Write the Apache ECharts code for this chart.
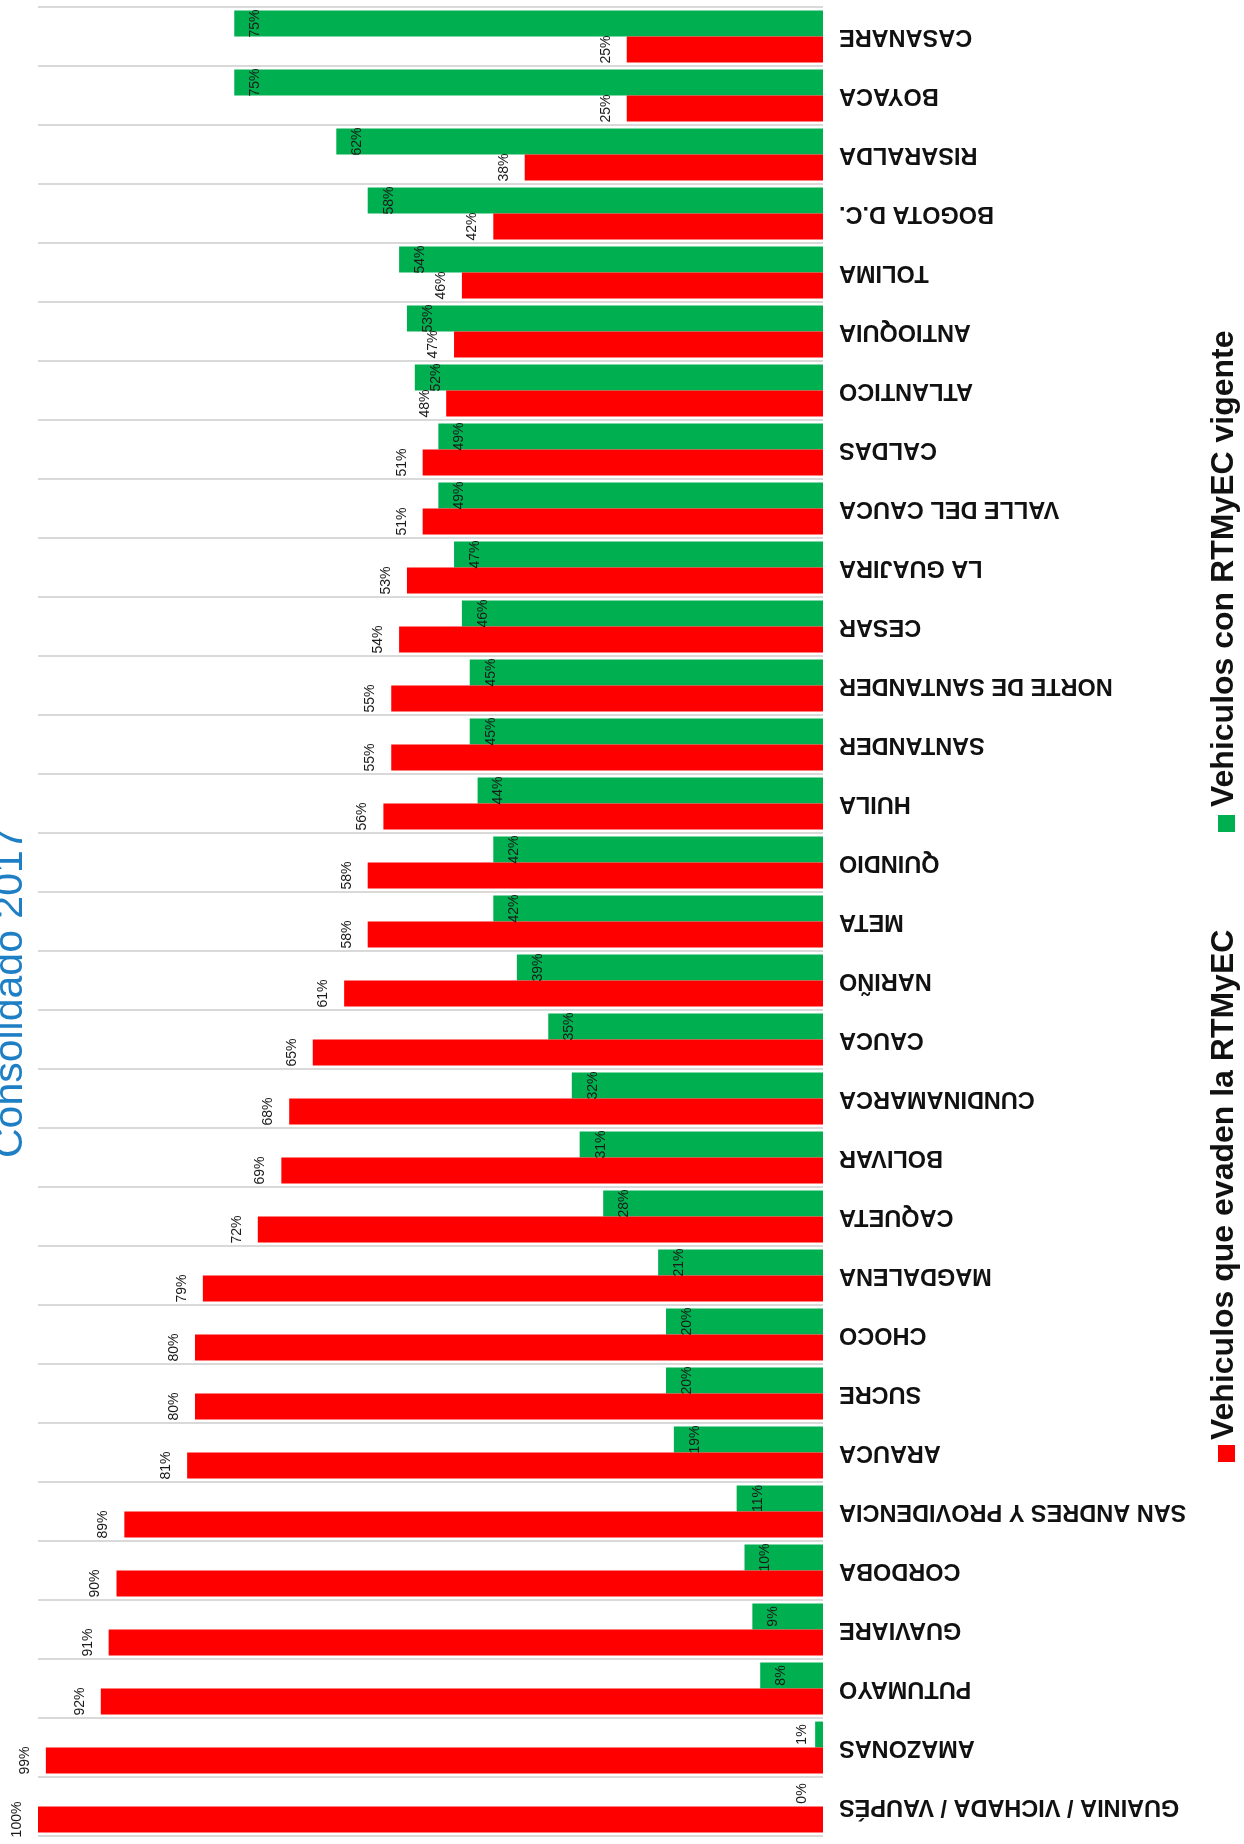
<!DOCTYPE html>
<html>
<head>
<meta charset="utf-8">
<script src="https://cdn.jsdelivr.net/npm/echarts@6/dist/echarts.min.js"></script>
<style>
html,body{margin:0;padding:0;background:#fff;}
#chart{width:1244px;height:1844px;}
</style>
</head>
<body>
<div id="chart"></div>
<script>
// Categories listed from bottom to top
const categories = [
  'GUAINIA / VICHADA / VAUPÉS', 'AMAZONAS', 'PUTUMAYO', 'GUAVIARE', 'CORDOBA',
  'SAN ANDRES Y PROVIDENCIA', 'ARAUCA', 'SUCRE', 'CHOCO', 'MAGDALENA',
  'CAQUETA', 'BOLIVAR', 'CUNDINAMARCA', 'CAUCA', 'NARIÑO',
  'META', 'QUINDIO', 'HUILA', 'SANTANDER', 'NORTE DE SANTANDER',
  'CESAR', 'LA GUAJIRA', 'VALLE DEL CAUCA', 'CALDAS', 'ATLANTICO',
  'ANTIOQUIA', 'TOLIMA', 'BOGOTA D.C.', 'RISARALDA', 'BOYACA', 'CASANARE'
];
const evaden = [100, 99, 92, 91, 90, 89, 81, 80, 80, 79, 72, 69, 68, 65, 61, 58, 58, 56, 55, 55, 54, 53, 51, 51, 48, 47, 46, 42, 38, 25, 25];
const vigente = [0, 1, 8, 9, 10, 11, 19, 20, 20, 21, 28, 31, 32, 35, 39, 42, 42, 44, 45, 45, 46, 47, 49, 49, 52, 53, 54, 58, 62, 75, 75];
const seriesNames = ['Vehiculos que evaden la RTMyEC', 'Vehiculos con RTMyEC vigente'];
const titleText = 'Consolidado 2017';

const RED = '#ff0000';
const GREEN = '#00b050';
const FONT = 'Liberation Sans';

const labelBase = {
  show: true,
  rotate: 90,
  align: 'center',
  verticalAlign: 'middle',
  fontSize: 14,
  fontFamily: FONT,
  color: '#1a1a1a',
  formatter: '{c}%'
};

const greenData = vigente.map(v => v >= 3 ? v : {
  value: v,
  label: { position: 'insideRight', distance: 21 }
});

const chart = echarts.init(document.getElementById('chart'), null, { renderer: 'canvas' });
chart.setOption({
  animation: false,
  backgroundColor: '#ffffff',
  grid: { left: 38, right: 421, top: 7, bottom: 8, containLabel: false },
  xAxis: {
    type: 'value', min: 0, max: 100, inverse: true,
    axisLine: { show: false }, axisTick: { show: false },
    axisLabel: { show: false }, splitLine: { show: false }
  },
  yAxis: {
    type: 'category', data: categories, position: 'right',
    axisLine: { show: false }, axisTick: { show: false },
    axisLabel: {
      interval: 0, rotate: 180, margin: 16,
      fontSize: 23.5, fontWeight: 'bold', fontFamily: FONT, color: '#111'
    },
    splitLine: { show: true, interval: 0, lineStyle: { color: '#d9d9d9', width: 2 } }
  },
  series: [
    {
      name: seriesNames[1], type: 'bar', data: greenData,
      barGap: '0%', barCategoryGap: '12%',
      itemStyle: { color: GREEN },
      label: Object.assign({}, labelBase, { position: 'insideLeft', distance: 21 })
    },
    {
      name: seriesNames[0], type: 'bar', data: evaden,
      barGap: '0%', barCategoryGap: '12%',
      itemStyle: { color: RED },
      label: Object.assign({}, labelBase, { position: 'left', distance: 21 })
    }
  ],
  graphic: [
    {
      type: 'text', x: 11, y: 1158, rotation: Math.PI / 2,
      style: { text: titleText, fontSize: 41, fontFamily: FONT, fill: '#1f7fc4', align: 'left', verticalAlign: 'middle' }
    },
    { type: 'rect', shape: { x: 1218, y: 815, width: 17, height: 17 }, style: { fill: GREEN } },
    {
      type: 'text', x: 1224, y: 807, rotation: Math.PI / 2,
      style: { text: seriesNames[1], fontSize: 32, fontWeight: 'bold', fontFamily: FONT, fill: '#111', align: 'left', verticalAlign: 'middle' }
    },
    { type: 'rect', shape: { x: 1218, y: 1445, width: 17, height: 17 }, style: { fill: RED } },
    {
      type: 'text', x: 1224, y: 1440, rotation: Math.PI / 2,
      style: { text: seriesNames[0], fontSize: 32, fontWeight: 'bold', fontFamily: FONT, fill: '#111', align: 'left', verticalAlign: 'middle' }
    }
  ]
});
</script>
</body>
</html>
